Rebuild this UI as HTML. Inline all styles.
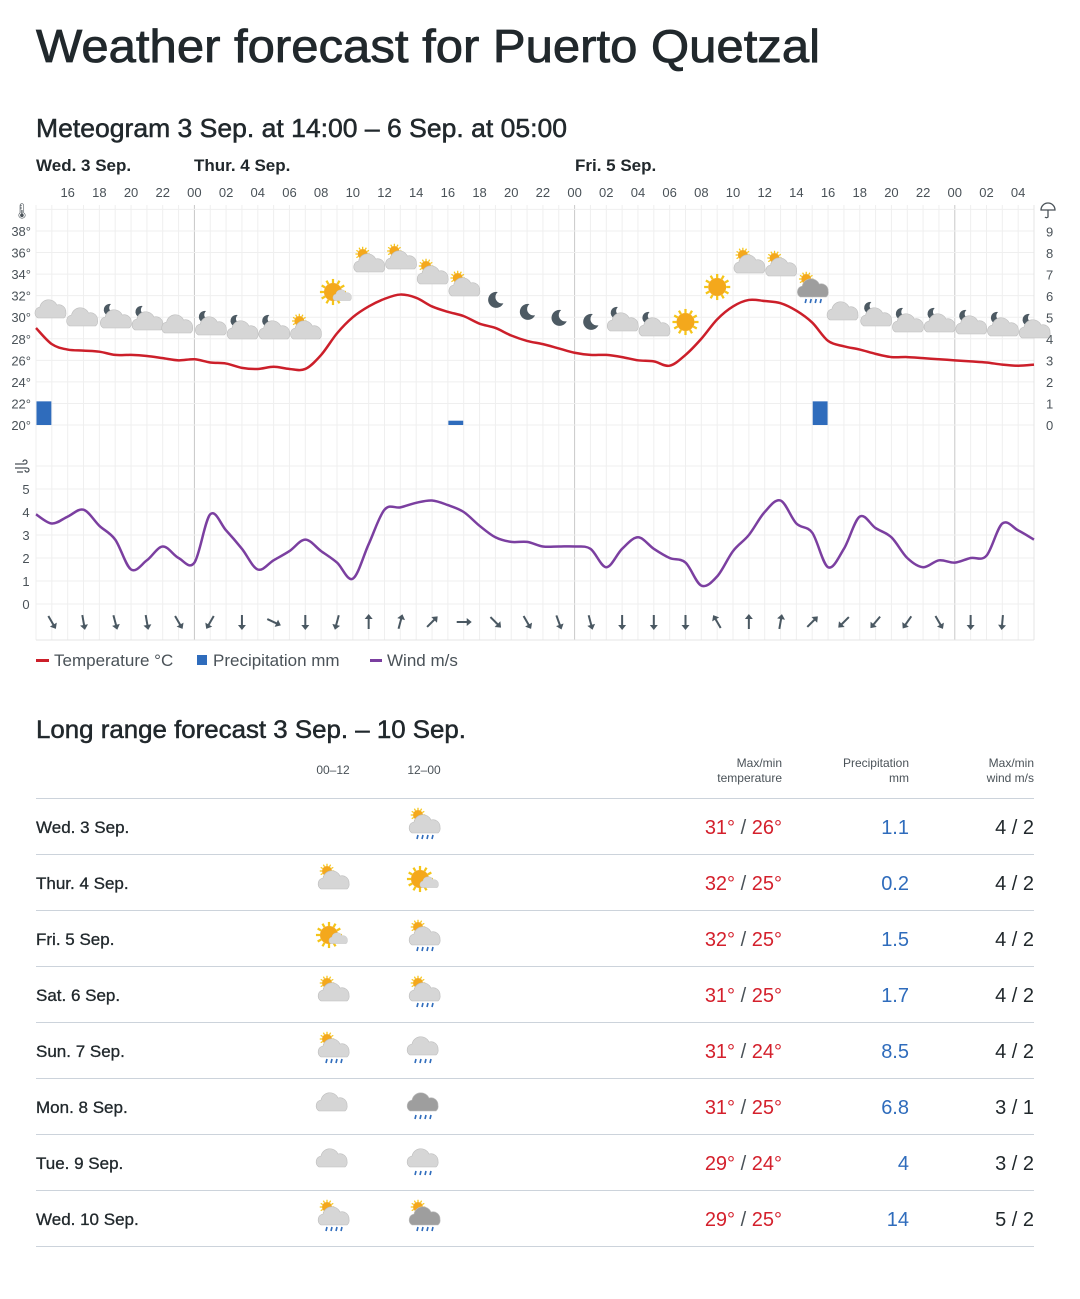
<!DOCTYPE html>
<html><head><meta charset="utf-8">
<style>
html,body{margin:0;padding:0;background:#fff;}
body{width:1080px;height:1299px;overflow:hidden;font-family:"Liberation Sans",sans-serif;color:#21282c;}
svg{display:block}
</style></head>
<body>
<svg id="s" width="1080" height="1299" xmlns="http://www.w3.org/2000/svg" font-family="Liberation Sans, sans-serif"></svg>
<script>
const S=document.getElementById('s');let h='';
const X0=36,PX=998/63;
const xh=i=>X0+i*PX;
const yT=t=>425-(t-20)*10.78;
const yW=w=>604-w*23;
h+=`<text x="36" y="62" font-size="46" fill="#21282c" stroke="#21282c" stroke-width="0.8" textLength="784" lengthAdjust="spacingAndGlyphs">Weather forecast for Puerto Quetzal</text>`;
h+=`<text x="36" y="137" font-size="26" fill="#21282c" stroke="#21282c" stroke-width="0.5" textLength="531" lengthAdjust="spacingAndGlyphs">Meteogram 3 Sep. at 14:00 – 6 Sep. at 05:00</text>`;
h+=`<text x="36" y="171" font-size="17" font-weight="bold" fill="#21282c">Wed. 3 Sep.</text>`;
h+=`<text x="194" y="171" font-size="17" font-weight="bold" fill="#21282c">Thur. 4 Sep.</text>`;
h+=`<text x="575" y="171" font-size="17" font-weight="bold" fill="#21282c">Fri. 5 Sep.</text>`;
for(let i=2;i<=63;i+=2){let hr=(14+i)%24;h+=`<text x="${xh(i)}" y="197" font-size="13" fill="#4a5258" text-anchor="middle">${String(hr).padStart(2,'0')}</text>`;}
for(let i=0;i<=63;i++){let x=xh(i);let hr=(14+i)%24;let c=hr==0?'#c8c8c8':'#efefef';h+=`<line x1="${x}" y1="205" x2="${x}" y2="640" stroke="${c}" stroke-width="1"/>`;}
for(let t=20;t<=40;t+=2){h+=`<line x1="36" y1="${yT(t)}" x2="1034" y2="${yT(t)}" stroke="#efefef"/>`;}
for(let w=0;w<=5.5;w+=1){h+=`<line x1="36" y1="${yW(w)}" x2="1034" y2="${yW(w)}" stroke="#efefef"/>`;}
h+=`<line x1="36" y1="466" x2="1034" y2="466" stroke="#efefef"/>`;
h+=`<line x1="36" y1="640" x2="1034" y2="640" stroke="#e4e4e4"/><line x1="1034" y1="205" x2="1034" y2="640" stroke="#e4e4e4"/>`;
for(let t=20;t<=38;t+=2){h+=`<text x="31" y="${yT(t)+5}" font-size="13" fill="#4a5258" text-anchor="end">${t}°</text>`;}
for(let p=0;p<=9;p++){h+=`<text x="1046" y="${425-p*21.5+5}" font-size="13" fill="#4a5258">${p}</text>`;}
for(let w=0;w<=5;w++){h+=`<text x="26" y="${yW(w)+5}" font-size="13" fill="#4a5258" text-anchor="middle">${w}</text>`;}
h+=`<text x="22" y="216" font-size="15" fill="#4a5258" text-anchor="middle">🌡</text>`;
h+=`<path d="M1041 210 a7 7 0 0 1 14 0 z M1048 210 v7 a2 2 0 0 1 -3 0" fill="none" stroke="#4a5258" stroke-width="1.3"/>`;
h+=`<path d="M15 464 h10 a2 2 0 1 0 -2 -2 M15 468 h12 a2 2 0 1 1 -2 2 M17 472 h6" fill="none" stroke="#4a5258" stroke-width="1.2"/>`;
const pr=[[0,1.1],[26,0.2],[49,1.1]];
pr.forEach(([i,p])=>{h+=`<rect x="${xh(i)+0.5}" y="${425-p*21.5}" width="${PX-1}" height="${p*21.5}" fill="#2f6cbc"/>`;});
function path(arr,f){let pts=arr.map((v,i)=>[xh(i),f(v)]);let d=`M${pts[0][0]},${pts[0][1]}`;for(let i=0;i<pts.length-1;i++){let p0=pts[Math.max(0,i-1)],p1=pts[i],p2=pts[i+1],p3=pts[Math.min(pts.length-1,i+2)];d+=` C${p1[0]+(p2[0]-p0[0])/6},${p1[1]+(p2[1]-p0[1])/6} ${p2[0]-(p3[0]-p1[0])/6},${p2[1]-(p3[1]-p1[1])/6} ${p2[0]},${p2[1]}`;}return d;}
const T=[29.0,27.5,27.0,26.9,26.8,26.5,26.5,26.4,26.2,26.0,26.1,25.8,25.7,25.3,25.2,25.4,25.2,25.2,26.5,28.5,30.0,31.0,31.7,32.1,31.8,31.0,30.5,30.1,29.4,29.0,28.3,27.8,27.5,27.1,26.7,26.5,26.5,26.3,26.0,25.9,25.5,26.5,28.0,29.8,31.0,31.6,31.5,31.3,30.6,29.5,27.8,27.3,27.0,26.6,26.3,26.3,26.2,26.1,26.0,25.9,25.8,25.6,25.5,25.6];
const W=[3.9,3.5,3.8,4.1,3.4,2.8,1.5,1.9,2.5,2.0,1.8,3.9,3.2,2.4,1.5,1.9,2.3,2.8,2.3,1.8,1.1,2.6,4.1,4.2,4.4,4.5,4.3,4.0,3.4,2.9,2.7,2.7,2.5,2.5,2.5,2.4,1.6,2.4,2.9,2.4,2.0,1.8,0.8,1.2,2.3,3.0,4.0,4.5,3.5,3.1,1.6,2.4,3.8,3.3,2.9,2.0,1.6,1.9,1.8,2.0,2.1,3.5,3.2,2.8];
h+=`<path d="${path(T,yT)}" fill="none" stroke="#cc1f2a" stroke-width="2.5"/>`;
h+=`<path d="${path(W,yW)}" fill="none" stroke="#7b3fa0" stroke-width="2.5"/>`;
function cloud(x,y,s,c){c=c||'#d6d6d6';return `<g transform="translate(${x},${y}) scale(${s})"><path d="M-14,6 a6,6 0 0 1 2,-11 a9,9 0 0 1 17,-2 a7,7 0 0 1 9,7 a6,6 0 0 1 -2,6 z" fill="${c}" stroke="#bdbdbd" stroke-width="0.6"/></g>`;}
function sun(x,y,r){let s=`<g>`;for(let k=0;k<12;k++){let a=k*Math.PI/6;s+=`<line x1="${x+Math.cos(a)*r}" y1="${y+Math.sin(a)*r}" x2="${x+Math.cos(a)*r*1.45}" y2="${y+Math.sin(a)*r*1.45}" stroke="#f5c518" stroke-width="${r/4}"/>`;}return s+`<circle cx="${x}" cy="${y}" r="${r}" fill="#f4a81c"/></g>`;}
function moon(x,y,r){return `<path d="M${x+r*0.3},${y-r} a${r},${r} 0 1 0 ${r*0.7},${r*1.4} a${r*0.8},${r*0.8} 0 0 1 -${r*0.7},-${r*1.4} z" fill="#4d5a63"/>`;}
function rain(x,y){let s='';for(let k=0;k<4;k++)s+=`<line x1="${x-8+k*5}" y1="${y}" x2="${x-9+k*5}" y2="${y+4}" stroke="#2f6cbc" stroke-width="1.6"/>`;return s;}
function icon(t,x,y){
 if(t=='c')return cloud(x,y,1);
 if(t=='mc')return moon(x-6,y-10,6)+cloud(x+2,y+2,1);
 if(t=='m')return moon(x,y,8);
 if(t=='sc')return sun(x-6,y-10,5)+cloud(x+2,y+2,1);
 if(t=='Sc')return sun(x-4,y-2,9)+cloud(x+6,y+3,0.6);
 if(t=='s')return sun(x,y,9);
 if(t=='sr')return sun(x-6,y-10,5)+cloud(x+2,y+2,1,'#9e9e9e')+rain(x+2,y+10);
 if(t=='scr')return sun(x-6,y-10,5)+cloud(x+2,y+2,1)+rain(x+2,y+10);
 if(t=='cr')return cloud(x,y,1)+rain(x,y+10);
 if(t=='dcr')return cloud(x,y,1,'#9e9e9e')+rain(x,y+10);
 return '';}
const ic=[['c',312],['c',320],['mc',320],['mc',322],['c',327],['mc',327],['mc',331],['mc',331],['sc',331],['Sc',294],['sc',264],['sc',261],['sc',276],['sc',288],['m',300],['m',312],['m',318],['m',322],['mc',323],['mc',328],['s',322],['s',287],['sc',265],['sc',268],['sr',289],['c',314],['mc',318],['mc',324],['mc',324],['mc',326],['mc',328],['mc',330]];
ic.forEach(([t,y],k)=>{h+=icon(t,xh(1+2*k),y);});
const ang=[150,170,165,170,150,210,180,115,180,195,0,15,45,90,135,150,160,165,180,180,180,330,0,10,45,225,220,215,150,180,185];
ang.forEach((a,k)=>{let x=xh(1+2*k),y=622;h+=`<g transform="translate(${x},${y}) rotate(${a})"><line x1="0" y1="7" x2="0" y2="-6" stroke="#4a5862" stroke-width="2"/><path d="M-4,-3 L0,-8 L4,-3 z" fill="#4a5862"/></g>`;});
h+=`<rect x="36" y="659" width="13" height="3" fill="#cc1f2a"/><text x="54" y="666" font-size="17" fill="#4a5258">Temperature °C</text>`;
h+=`<rect x="197" y="655" width="10" height="10" fill="#2f6cbc"/><text x="213" y="666" font-size="17" fill="#4a5258">Precipitation mm</text>`;
h+=`<rect x="370" y="659" width="12" height="3" fill="#7b3fa0"/><text x="387" y="666" font-size="17" fill="#4a5258">Wind m/s</text>`;
h+=`<text x="36" y="738" font-size="25" fill="#21282c" stroke="#21282c" stroke-width="0.5" textLength="430" lengthAdjust="spacingAndGlyphs">Long range forecast 3 Sep. – 10 Sep.</text>`;
h+=`<text x="333" y="774" font-size="12" fill="#4a5258" text-anchor="middle">00–12</text><text x="424" y="774" font-size="12" fill="#4a5258" text-anchor="middle">12–00</text>`;
h+=`<text x="782" y="767" font-size="12" fill="#4a5258" text-anchor="end">Max/min</text><text x="782" y="782" font-size="12" fill="#4a5258" text-anchor="end">temperature</text>`;
h+=`<text x="909" y="767" font-size="12" fill="#4a5258" text-anchor="end">Precipitation</text><text x="909" y="782" font-size="12" fill="#4a5258" text-anchor="end">mm</text>`;
h+=`<text x="1034" y="767" font-size="12" fill="#4a5258" text-anchor="end">Max/min</text><text x="1034" y="782" font-size="12" fill="#4a5258" text-anchor="end">wind m/s</text>`;
h+=`<line x1="36" y1="798.5" x2="1034" y2="798.5" stroke="#ccd3db"/>`;
const rows=[['Wed. 3 Sep.','','scr','31','26','1.1','4/2'],['Thur. 4 Sep.','sc','Sc','32','25','0.2','4/2'],['Fri. 5 Sep.','Sc','scr','32','25','1.5','4/2'],['Sat. 6 Sep.','sc','scr','31','25','1.7','4/2'],['Sun. 7 Sep.','scr','cr','31','24','8.5','4/2'],['Mon. 8 Sep.','c','dcr','31','25','6.8','3/1'],['Tue. 9 Sep.','c','cr','29','24','4','3/2'],['Wed. 10 Sep.','scr','sr','29','25','14','5/2']];
rows.forEach((r,k)=>{let y=827+k*56;
 h+=`<text x="36" y="${y+6}" font-size="17" fill="#21282c" stroke="#21282c" stroke-width="0.3">${r[0]}</text>`;
 h+=icon(r[1],333,y-2)+icon(r[2],424,y-2);
 h+=`<text x="782" y="${y+7}" font-size="20" fill="#d4202c" text-anchor="end">${r[3]}° <tspan fill="#4a5258">/</tspan> ${r[4]}°</text>`;
 h+=`<text x="909" y="${y+7}" font-size="20" fill="#2f6cbc" text-anchor="end">${r[5]}</text>`;
 let w=r[6].split('/');
 h+=`<text x="1034" y="${y+7}" font-size="20" fill="#21282c" text-anchor="end">${w[0]} / ${w[1]}</text>`;
 h+=`<line x1="36" y1="${y+27.5}" x2="1034" y2="${y+27.5}" stroke="#ccd3db"/>`;});
S.innerHTML=h;
</script>
</body></html>
